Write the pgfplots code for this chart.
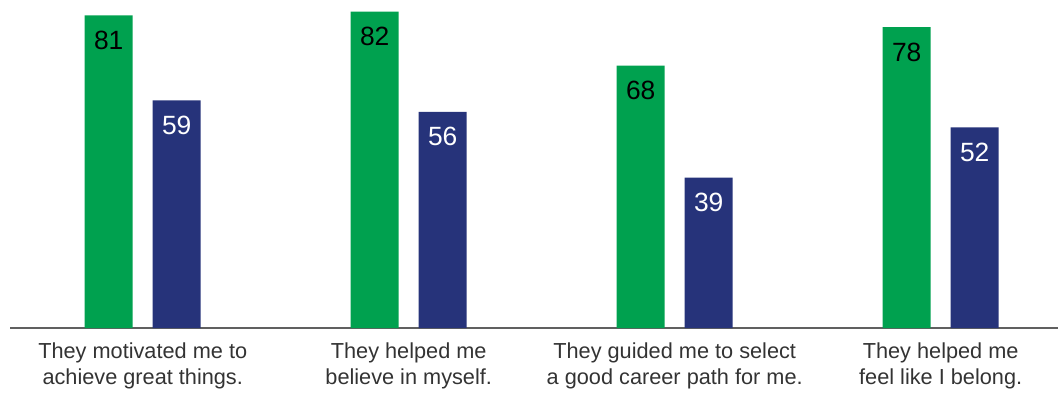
\documentclass[border=0pt]{standalone}
\usepackage{pgfplots}
\pgfplotsset{compat=1.18}
\usepackage{fontspec}
\setmainfont{Liberation Sans}
\definecolor{cgreen}{HTML}{00A14F}
\definecolor{cblue}{HTML}{26337A}
\definecolor{ctext}{HTML}{333333}
\definecolor{caxis}{HTML}{606060}
\begin{document}
\begin{tikzpicture}
\path[use as bounding box] (0,0) rectangle (1058bp,394bp);
\begin{axis}[
  at={(10bp,66bp)}, anchor=south west,
  scale only axis, width=1048bp, height=328bp,
  ybar, bar width=48bp,
  xmin=-0.499, xmax=3.441, ymin=0, ymax=85,
  hide y axis,
  axis x line=bottom,
  x axis line style={-, draw=caxis, line width=1.6bp},
  xtick={0,1,2,3},
  xtick style={draw=none},
  xticklabels={They motivated me to\\achieve great things.,They helped me\\believe in myself.,They guided me to select\\a good career path for me.,They helped me\\feel like I belong.},
  xticklabel style={align=center, font=\fontsize{21.8}{26.5}\selectfont, text=ctext, yshift=-9bp},
  /pgf/number format/assume math mode=true,
  nodes near coords,
  every node near coord/.append style={font=\fontsize{26.5}{30}\selectfont, anchor=center, yshift=-25bp, /pgf/number format/assume math mode=true},
  clip=false,
]
\addplot[fill=cgreen, draw=none, bar shift=-34bp, nodes near coords style={text=black}] coordinates {(0,81) (1,82) (2,68) (3,78)};
\addplot[fill=cblue, draw=none, bar shift=34bp, nodes near coords style={text=white}] coordinates {(0,59) (1,56) (2,39) (3,52)};
\end{axis}
\end{tikzpicture}
\end{document}
